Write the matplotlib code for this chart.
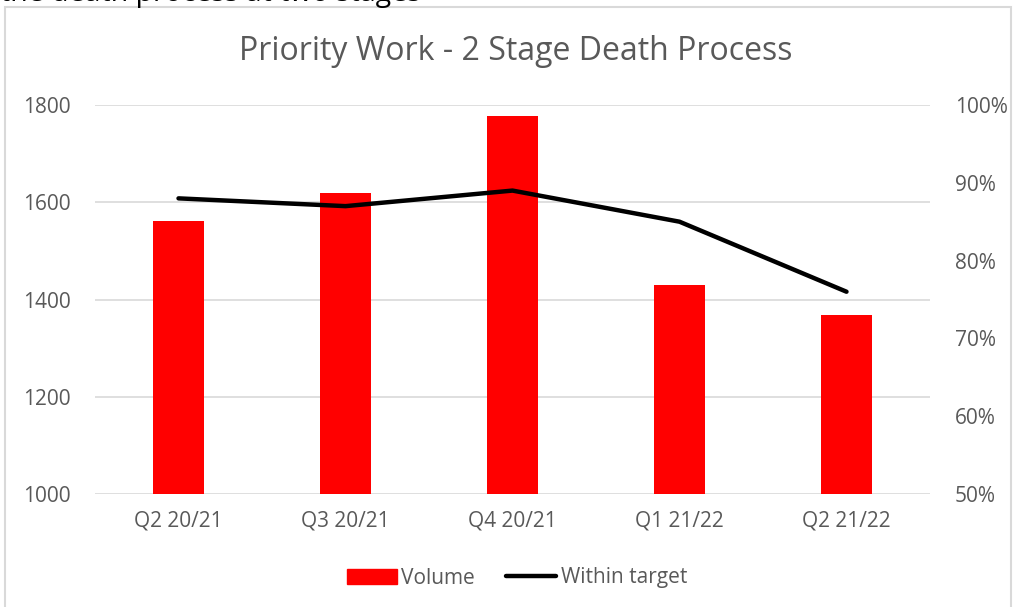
import matplotlib
matplotlib.use("Agg")
import matplotlib.pyplot as plt
from matplotlib.patches import Rectangle
from matplotlib.lines import Line2D
from matplotlib.ticker import FuncFormatter

quarters = ["Q2 20/21", "Q3 20/21", "Q4 20/21", "Q1 21/22", "Q2 21/22"]
volume = [1561, 1619, 1778, 1430, 1368]
within_target = [88, 87, 89, 85, 76]

plt.rcParams["font.family"] = ["Open Sans", "DejaVu Sans"]
text_col = "#595959"

fig = plt.figure(figsize=(10.14, 6.07), dpi=100)
fig.patches.append(Rectangle((5 / 1014, -0.01), 1006 / 1014, 1 - 7 / 607 + 0.01,
                             transform=fig.transFigure, fill=False,
                             edgecolor="#d9d9d9", linewidth=1.5))
# text from the surrounding document, cut off at the top edge as in the source
fig.text(0.0, 1.0 - 1.2 / 607, "the death process at two stages", fontsize=20.5,
         color="black", va="baseline", ha="left")

ax = fig.add_axes([95 / 1014, 1 - 494 / 607, 835 / 1014, 389 / 607])
x = range(len(quarters))
ax.bar(x, volume, width=0.31, color="#ff0000", zorder=2)
ax.set_ylim(1000, 1800)
ax.set_xlim(-0.5, len(quarters) - 0.5)
ax.set_yticks([1000, 1200, 1400, 1600, 1800])
ax.set_xticks(list(x))
ax.set_xticklabels(quarters)
ax.grid(axis="y", color="#d9d9d9", linewidth=1.2, zorder=0)
for s in ax.spines.values():
    s.set_visible(False)
ax.tick_params(length=0, labelsize=15, colors=text_col, pad=17.5)
ax.tick_params(axis="x", pad=12)

ax2 = ax.twinx()
ax2.plot(x, within_target, color="black", linewidth=3.2, solid_capstyle="round", zorder=3)
ax2.set_ylim(50, 100)
ax2.set_yticks(range(50, 101, 10))
ax2.yaxis.set_major_formatter(FuncFormatter(lambda v, p: f"{int(v)}%"))
for s in ax2.spines.values():
    s.set_visible(False)
ax2.tick_params(length=0, labelsize=15, colors=text_col, pad=18)

fig.text(0.509, 1 - 52 / 607, "Priority Work - 2 Stage Death Process", fontsize=23,
         color=text_col, ha="center", va="center")

handles = [Rectangle((0, 0), 1, 1, color="#ff0000"),
           Line2D([0], [0], color="black", linewidth=3.2, solid_capstyle="round")]
fig.legend(handles, ["Volume", "Within target"], loc="center",
           bbox_to_anchor=(0.51, 1 - 578 / 607), ncol=2, frameon=False,
           fontsize=15, labelcolor=text_col, handlelength=2.4, handletextpad=0.2,
           columnspacing=1.5)

fig.savefig("out.png", dpi=100)
